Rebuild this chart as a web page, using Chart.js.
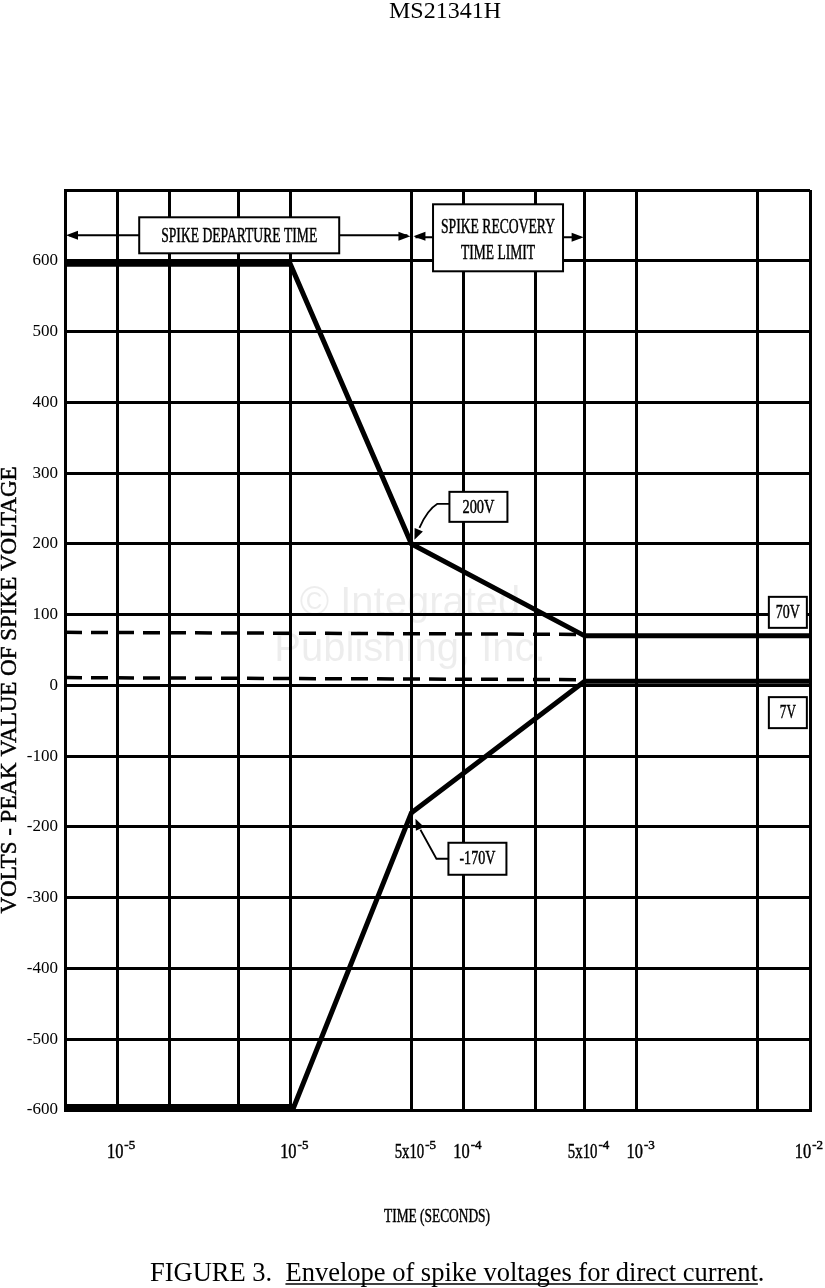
<!DOCTYPE html>
<html><head><meta charset="utf-8">
<script src="https://cdn.jsdelivr.net/npm/chart.js@4.4.1/dist/chart.umd.min.js"></script>
<style>
html,body{margin:0;padding:0;background:#fff;}
canvas{display:block;}
</style></head><body>
<canvas id="c" width="825" height="1288"></canvas>
<script>
// ---- data ----
const timeRange = [5e-7, 1e-2];
const voltRange = [-600, 700];
const gridTimes = [1e-6, 2e-6, 5e-6, 1e-5, 5e-5, 1e-4, 2.6e-4, 5e-4, 1e-3, 5e-3, 1e-2];
const labelTimes = [1e-6, 1e-5, 5e-5, 1e-4, 5e-4, 1e-3, 1e-2];
const labelBases = ['10', '10', '5x10', '10', '5x10', '10', '10'];
const labelExps  = ['-5', '-5', '-5', '-4', '-4', '-3', '-2'];
const upperTimes = [5e-7, 1e-5, 5e-5, 5e-4, 1e-2];
const upperVolts = [595, 595, 200, 70, 70];
const lowerTimes = [5e-7, 1.05e-5, 5e-5, 5e-4, 1e-2];
const lowerVolts = [-595, -595, -180, 6, 6];
const dashTimes = [5e-7, 5e-4];
const dashUpperVolts = [75, 72];
const dashLowerVolts = [11, 8];
const spanTimes = [5e-7, 5e-5, 5e-4];
const spanVolt = 636;
const calloutLabels = ['200V', '-170V', '70V', '7V'];

const SERIF = "'Liberation Serif', 'Times New Roman', serif";
const pts = (xs, ys) => xs.map((t, i) => ({x: t, y: ys[i]}));

function arrowHead(ctx, x, y, dir, len = 12, half = 4.5) {
  ctx.beginPath();
  ctx.moveTo(x, y);
  ctx.lineTo(x - dir * len, y - half);
  ctx.lineTo(x - dir * len, y + half);
  ctx.closePath();
  ctx.fill();
}
function arrowHeadTo(ctx, fx, fy, tx, ty, len = 11, half = 4.5) {
  const a = Math.atan2(ty - fy, tx - fx);
  ctx.save();
  ctx.translate(tx, ty); ctx.rotate(a);
  ctx.beginPath(); ctx.moveTo(0, 0); ctx.lineTo(-len, -half); ctx.lineTo(-len, half); ctx.closePath(); ctx.fill();
  ctx.restore();
}
function box(ctx, x, y, w, h) {
  ctx.fillStyle = '#fff';
  ctx.fillRect(x, y, w, h);
  ctx.lineWidth = 2; ctx.strokeStyle = '#000';
  ctx.strokeRect(x, y, w, h);
  ctx.fillStyle = '#000';
}
// scanned-looking text: slight stroke to thicken
function text(ctx, s, x, y, size, maxW, align = 'center', base = 'middle', heavy = true) {
  ctx.font = size + 'px ' + SERIF;
  ctx.textAlign = align; ctx.textBaseline = base;
  ctx.fillStyle = '#000'; ctx.strokeStyle = '#000';
  if (maxW) ctx.fillText(s, x, y, maxW); else ctx.fillText(s, x, y);
  if (heavy) {
    ctx.lineWidth = 0.45;
    if (maxW) ctx.strokeText(s, x, y, maxW); else ctx.strokeText(s, x, y);
  }
}

const watermark = {
  id: 'watermark',
  beforeDatasetsDraw(chart) {
    const ctx = chart.ctx;
    ctx.save();
    ctx.fillStyle = 'rgba(0,0,0,0.07)';
    ctx.font = "40px 'Liberation Sans', sans-serif";
    ctx.textAlign = 'center'; ctx.textBaseline = 'middle';
    ctx.fillText('© Integrated', 410, 604);
    ctx.fillText('Publishing, Inc.', 410, 650);
    ctx.restore();
  }
};

const annot = {
  id: 'annot',
  afterDatasetsDraw(chart) {
    const ctx = chart.ctx, xs = chart.scales.x, ys = chart.scales.y;
    const X = t => xs.getPixelForValue(t), Y = v => ys.getPixelForValue(v);
    ctx.save();
    ctx.fillStyle = '#000'; ctx.strokeStyle = '#000';

    // ---- span arrows ----
    const ay = Y(spanVolt);
    const x0 = X(spanTimes[0]), x1 = X(spanTimes[1]), x2 = X(spanTimes[2]);
    const b1 = {w: 200};
    b1.x = X(5e-6) + 1 - b1.w / 2;
    const b2 = {w: 130};
    b2.x = X(Math.sqrt(spanTimes[1] * spanTimes[2])) - b2.w / 2;
    ctx.lineWidth = 2;
    ctx.beginPath();
    ctx.moveTo(x0 + 4, ay); ctx.lineTo(b1.x, ay);
    ctx.moveTo(b1.x + b1.w, ay); ctx.lineTo(x1 - 4, ay);
    ctx.moveTo(x1 + 4, ay + 2); ctx.lineTo(b2.x, ay + 2);
    ctx.moveTo(b2.x + b2.w, ay + 2); ctx.lineTo(x2 - 4, ay + 2);
    ctx.stroke();
    arrowHead(ctx, x0 + 1, ay, -1);
    arrowHead(ctx, x1 - 1, ay + 1, 1);
    arrowHead(ctx, x1 + 2, ay + 1, -1);
    arrowHead(ctx, x2 - 1, ay + 2, 1);
    box(ctx, b1.x, ay - 18, b1.w, 36);
    text(ctx, 'SPIKE DEPARTURE TIME', b1.x + b1.w / 2, ay + 1, 20, 156);
    box(ctx, b2.x, ay - 31, b2.w, 67);
    text(ctx, 'SPIKE RECOVERY', b2.x + b2.w / 2, ay - 8, 20, 114);
    text(ctx, 'TIME LIMIT', b2.x + b2.w / 2, ay + 18, 20, 74);

    // ---- 200V callout ----
    let vx = X(upperTimes[2]), vy = Y(upperVolts[2]);
    ctx.lineWidth = 1.8;
    ctx.beginPath();
    ctx.moveTo(vx + 38, vy - 40); ctx.lineTo(vx + 26, vy - 40);
    ctx.quadraticCurveTo(vx + 16, vy - 34, vx + 8, vy - 16);
    ctx.stroke();
    arrowHeadTo(ctx, vx + 9, vy - 18, vx + 3, vy - 4);
    box(ctx, vx + 38, vy - 52, 58, 30);
    text(ctx, calloutLabels[0], vx + 67, vy - 36, 19, 32);

    // ---- -170V callout ----
    vx = X(lowerTimes[2]); vy = Y(lowerVolts[2]);
    ctx.lineWidth = 1.8;
    ctx.beginPath();
    ctx.moveTo(vx + 37, vy + 46); ctx.lineTo(vx + 25, vy + 46);
    ctx.lineTo(vx + 9, vy + 17);
    ctx.stroke();
    arrowHeadTo(ctx, vx + 9, vy + 17, vx + 4, vy + 6);
    box(ctx, vx + 37, vy + 30, 58, 32);
    text(ctx, calloutLabels[1], vx + 66, vy + 46, 19, 36);

    // ---- 70V / 7V ----
    const rx = X(5e-3) + 11;
    box(ctx, rx, Y(upperVolts[4]) - 39, 38, 31);
    text(ctx, calloutLabels[2], rx + 19, Y(upperVolts[4]) - 23, 19, 24);
    box(ctx, rx, Y(lowerVolts[4]) + 16, 38, 31);
    text(ctx, calloutLabels[3], rx + 19, Y(lowerVolts[4]) + 32, 19, 16);

    // ---- x tick labels (with superscripts) ----
    labelTimes.forEach((t, i) => {
      const x = X(t);
      ctx.font = '20px ' + SERIF;
      const wFull = ctx.measureText(labelBases[i]).width;
      const w = labelBases[i].length > 2 ? wFull * 0.74 : wFull * 0.82;
      ctx.font = '13px ' + SERIF;
      const we = ctx.measureText(labelExps[i]).width;
      let left = x - w / 2 - 2;
      if (left + w + 1 + we > 823) left = 823 - (w + 1 + we);
      text(ctx, labelBases[i], left, 1158, 20, w, 'left', 'alphabetic');
      text(ctx, labelExps[i], left + w + 1, 1149, 13, null, 'left', 'alphabetic');
    });

    // ---- axis titles ----
    text(ctx, 'TIME (SECONDS)', 437, 1217, 19, 106);
    ctx.save();
    ctx.translate(10, 690); ctx.rotate(-Math.PI / 2);
    text(ctx, 'VOLTS - PEAK VALUE OF SPIKE VOLTAGE', 0, 0, 23, 458);
    ctx.restore();

    // ---- page header / caption ----
    text(ctx, 'MS21341H', 445, 18, 24, null, 'center', 'alphabetic', false);
    ctx.font = '26.5px ' + SERIF;
    ctx.fillStyle = '#000'; ctx.strokeStyle = '#000';
    ctx.textAlign = 'left'; ctx.textBaseline = 'alphabetic';
    const capA = 'FIGURE 3.  ', capB = 'Envelope of spike voltages for direct current';
    const cx = 150, cy = 1281;
    ctx.fillText(capA, cx, cy);
    const wa = ctx.measureText(capA).width;
    ctx.fillText(capB + '.', cx + wa, cy);
    const wb = ctx.measureText(capB).width;
    ctx.lineWidth = 1.6;
    ctx.beginPath(); ctx.moveTo(cx + wa, cy + 3); ctx.lineTo(cx + wa + wb, cy + 3); ctx.stroke();
    ctx.restore();
  }
};

new Chart(document.getElementById('c'), {
  type: 'line',
  data: {
    datasets: [
      {label: 'Upper envelope', data: pts(upperTimes, upperVolts), borderColor: '#000', borderWidth: 5, pointRadius: 0, tension: 0, fill: false},
      {label: 'Lower envelope', data: pts(lowerTimes, lowerVolts), borderColor: '#000', borderWidth: 5, pointRadius: 0, tension: 0, fill: false},
      {label: '70V limit', data: pts(dashTimes, dashUpperVolts), borderColor: '#000', borderWidth: 3.5, borderDash: [17, 9], pointRadius: 0, tension: 0, fill: false},
      {label: '7V limit', data: pts(dashTimes, dashLowerVolts), borderColor: '#000', borderWidth: 3.5, borderDash: [17, 9], pointRadius: 0, tension: 0, fill: false}
    ]
  },
  options: {
    responsive: false, animation: false, devicePixelRatio: 1,
    layout: {padding: {top: 190, right: 15, bottom: 58, left: 0}},
    plugins: {legend: {display: false}, tooltip: {enabled: false}, title: {display: false}},
    scales: {
      x: {
        type: 'logarithmic', min: timeRange[0], max: timeRange[1],
        afterBuildTicks: s => { s.ticks = gridTimes.map(v => ({value: v})); },
        afterFit: s => { s.height = 120; },
        ticks: {display: false, autoSkip: false},
        grid: {color: '#000', lineWidth: 3, drawTicks: false},
        border: {display: true, color: '#000', width: 3}
      },
      y: {
        type: 'linear', min: voltRange[0], max: voltRange[1],
        afterFit: s => { s.width = 65; },
        ticks: {stepSize: 100, padding: 7, color: '#000', font: {family: SERIF, size: 17},
                callback: v => (v === voltRange[1] ? '' : String(v))},
        grid: {color: '#000', lineWidth: 3, drawTicks: false},
        border: {display: true, color: '#000', width: 3}
      }
    }
  },
  plugins: [watermark, annot]
});
</script>
</body></html>
